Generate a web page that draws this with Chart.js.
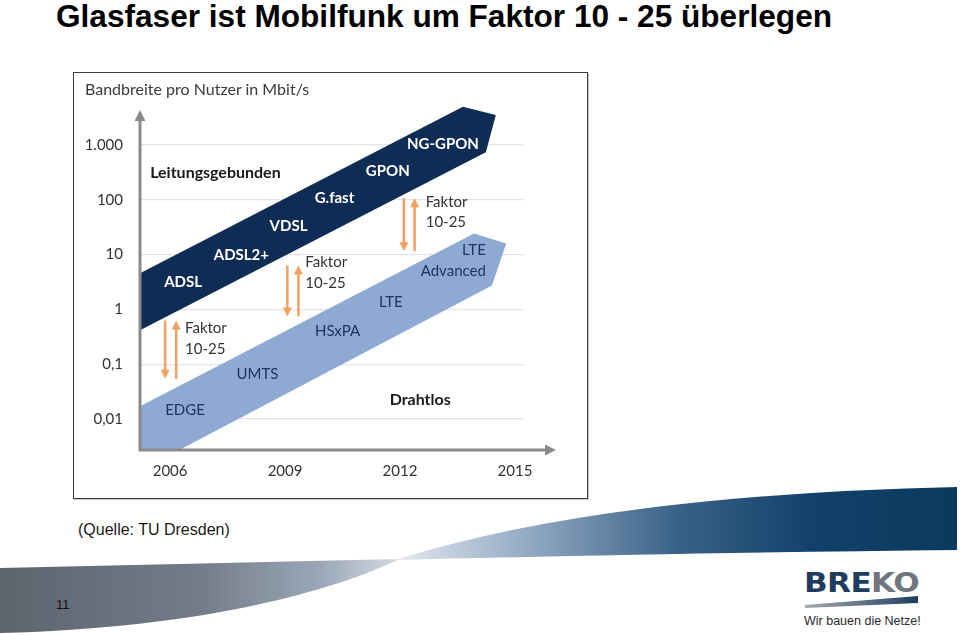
<!DOCTYPE html>
<html lang="de">
<head>
<meta charset="utf-8">
<title>Glasfaser ist Mobilfunk um Faktor 10 - 25 überlegen</title>
<script src="https://cdn.jsdelivr.net/npm/chart.js@4.4.1/dist/chart.umd.min.js"></script>
<style>
  html, body { margin: 0; padding: 0; background: #fff; }
  body { width: 960px; height: 635px; position: relative; overflow: hidden; font-family: 'Liberation Sans', Arial, sans-serif; }
  #deco { position: absolute; left: 0; top: 0; }
  .slide-title { position: absolute; left: 56px; top: -2px; font-size: 31.6px; font-weight: bold; color: #000; white-space: nowrap; }
  #box { position: absolute; left: 73px; top: 72px; width: 515px; height: 427px; box-sizing: border-box; border: 1px solid #3c3c3c; background: #fff; box-shadow: 1px 1px 0 #c8c8c8; }
  #box canvas { position: absolute; left: 0; top: 0; }
  .ylabel { position: absolute; left: 11px; top: 6px; font: 16px Lato, sans-serif; color: #3a3a3a; white-space: nowrap; }
  .source { position: absolute; left: 78px; top: 521px; font-size: 16px; color: #1a1a1a; white-space: nowrap; }
  .page { position: absolute; left: 56px; top: 597px; font-size: 13px; color: #111; }
  .breko { position: absolute; left: 804px; top: 568px; font: bold 27px 'DejaVu Sans', sans-serif; letter-spacing: -0.5px; transform: scaleX(1.15); transform-origin: left top; white-space: nowrap; line-height: 30px; }
  .breko .b { color: #1f3d5e; }
  .breko .k { color: #6f767e; }
  .claim { position: absolute; left: 804px; top: 614px; font-size: 12.5px; color: #2a2a2a; white-space: nowrap; }
</style>
</head>
<body>
<svg id="deco" width="960" height="635">
  <defs>
    <linearGradient id="gLeft" x1="0" y1="0" x2="400" y2="0" gradientUnits="userSpaceOnUse">
      <stop offset="0" stop-color="#5d646e"/>
      <stop offset="0.5" stop-color="#737c89"/>
      <stop offset="0.8" stop-color="#9ba7b7"/>
      <stop offset="1" stop-color="#d3dae4"/>
    </linearGradient>
    <linearGradient id="gRight" x1="395" y1="0" x2="957" y2="0" gradientUnits="userSpaceOnUse">
      <stop offset="0" stop-color="#e3e8ef"/>
      <stop offset="0.25" stop-color="#8ea6c0"/>
      <stop offset="0.5" stop-color="#3a6288"/>
      <stop offset="0.75" stop-color="#11406a"/>
      <stop offset="1" stop-color="#0b3a5e"/>
    </linearGradient>
    <linearGradient id="gBar" x1="805" y1="0" x2="918" y2="0" gradientUnits="userSpaceOnUse">
      <stop offset="0" stop-color="#a3a9b0"/>
      <stop offset="1" stop-color="#1f3d5e"/>
    </linearGradient>
  </defs>
  <path d="M0,568 L400,559 C330,592 200,628 0,633 Z" fill="url(#gLeft)"/>
  <path d="M395,560 Q600,495 957,487 L957,550 C760,552 560,556 395,560 Z" fill="url(#gRight)"/>
  <path d="M805,605 L918,596 L918,603 L805,608 Z" fill="url(#gBar)"/>
</svg>

<div class="slide-title">Glasfaser ist Mobilfunk um Faktor 10 - 25 überlegen</div>

<div id="box">
  <canvas id="chart" width="513" height="425"></canvas>
  <div class="ylabel">Bandbreite pro Nutzer in Mbit/s</div>
</div>

<div class="source">(Quelle: TU Dresden)</div>
<div class="page">11</div>
<div class="breko"><span class="b">BRE</span><span class="k">KO</span></div>
<div class="claim">Wir bauen die Netze!</div>

<script>
// axis ticks
const xTicks = [2006, 2009, 2012, 2015];
const xTickLabels = ['2006', '2009', '2012', '2015'];
const yTicks = [0.01, 0.1, 1, 10, 100, 1000];
const yTickLabels = ['0,01', '0,1', '1', '10', '100', '1.000'];

// band outlines (year, Mbit/s)
const wiredBand = [
  { x: 2005.2, y: 4.5 }, { x: 2013.64, y: 5000 }, { x: 2014.5, y: 3540 },
  { x: 2014.24, y: 745 }, { x: 2005.2, y: 0.41 }
];
const wirelessBand = [
  { x: 2005.2, y: 0.0169 }, { x: 2013.93, y: 24.4 }, { x: 2014.77, y: 16.0 },
  { x: 2014.4, y: 2.73 }, { x: 2005.2, y: 0.00112 }
];

// technology labels inside the bands
const wiredTech  = ['ADSL', 'ADSL2+', 'VDSL', 'G.fast', 'GPON', 'NG-GPON'];
const wiredTechX = [2006.34, 2007.86, 2009.09, 2010.29, 2011.68, 2013.12];
const wiredTechY = [3.1, 9.7, 32.8, 107, 334, 1043];
const wirelessTech  = ['EDGE', 'UMTS', 'HSxPA', 'LTE'];
const wirelessTechX = [2006.39, 2008.28, 2010.37, 2011.76];
const wirelessTechY = [0.0146, 0.0667, 0.409, 1.33];
const lteAdvLines = ['LTE', 'Advanced'];
const lteAdvX = 2014.24;
const lteAdvY = [11.9, 4.92];

const groupNames = ['Leitungsgebunden', 'Drahtlos'];
const groupX = [2005.48, 2011.73];
const groupY = [307, 0.0223];

// "Faktor 10-25" double arrows
const factorDownX = [2005.87, 2009.06, 2012.10];
const factorUpX   = [2006.16, 2009.35, 2012.38];
const factorHigh  = [0.624, 6.34, 107];
const factorLow   = [0.054, 0.738, 11.5];
const factorTextX = [2006.39, 2009.53, 2012.67];
const factorText1Y = [0.445, 7.2, 90.4];
const factorText2Y = [0.184, 2.97, 38.9];

const NAVY = '#0f2d54';
const LIGHT = '#8eaad3';
const AXIS = '#8a8a8a';
const ORANGE = '#f2a060';
const FONT = 'Lato, sans-serif';

function arrowHead(c, x, y, dx, dy, len, hw) {
  const bx = x - dx * len, by = y - dy * len;
  c.beginPath();
  c.moveTo(x, y);
  c.lineTo(bx - dy * hw, by + dx * hw);
  c.lineTo(bx + dy * hw, by - dx * hw);
  c.closePath();
  c.fill();
}

const overlay = {
  id: 'overlay',
  afterDatasetsDraw(ch) {
    const c = ch.ctx, a = ch.chartArea, xs = ch.scales.x, ys = ch.scales.y;
    const px = v => xs.getPixelForValue(v), py = v => ys.getPixelForValue(v);
    c.save();

    // axes with arrow heads
    c.strokeStyle = AXIS; c.fillStyle = AXIS; c.lineWidth = 3;
    const yTip = a.top + 10, xTip = a.right + 32;
    c.beginPath();
    c.moveTo(a.left, a.bottom + 1.5); c.lineTo(a.left, yTip + 8);
    c.moveTo(a.left - 1.5, a.bottom); c.lineTo(xTip - 8, a.bottom);
    c.stroke();
    arrowHead(c, a.left, yTip, 0, -1, 11, 5.5);
    arrowHead(c, xTip, a.bottom, 1, 0, 11, 5.5);

    // factor arrows
    c.strokeStyle = ORANGE; c.fillStyle = ORANGE; c.lineWidth = 2.5;
    factorDownX.forEach((fx, i) => {
      const x1 = px(fx), x2 = px(factorUpX[i]);
      const top = py(factorHigh[i]), bot = py(factorLow[i]);
      c.beginPath();
      c.moveTo(x1, top); c.lineTo(x1, bot - 7);
      c.moveTo(x2, bot); c.lineTo(x2, top + 7);
      c.stroke();
      arrowHead(c, x1, bot, 0, 1, 9, 4.5);
      arrowHead(c, x2, top, 0, -1, 9, 4.5);
    });

    c.textBaseline = 'middle';
    // factor texts
    c.font = '15px ' + FONT; c.fillStyle = '#333'; c.textAlign = 'left';
    factorTextX.forEach((fx, i) => {
      c.fillText('Faktor', px(fx), py(factorText1Y[i]));
      c.fillText('10-25', px(fx), py(factorText2Y[i]));
    });

    // group names
    c.font = '700 16px ' + FONT; c.fillStyle = '#1a1a1a';
    groupNames.forEach((g, i) => c.fillText(g, px(groupX[i]), py(groupY[i])));

    // band labels
    c.font = '700 15px ' + FONT;
    c.textAlign = 'center'; c.fillStyle = '#ffffff';
    wiredTech.forEach((t, i) => c.fillText(t, px(wiredTechX[i]), py(wiredTechY[i])));
    c.fillStyle = '#1d3560';
    c.font = '15px ' + FONT;
    wirelessTech.forEach((t, i) => c.fillText(t, px(wirelessTechX[i]), py(wirelessTechY[i])));
    c.textAlign = 'right';
    lteAdvLines.forEach((t, i) => c.fillText(t, px(lteAdvX), py(lteAdvY[i])));

    c.restore();
  }
};

new Chart(document.getElementById('chart'), {
  type: 'line',
  plugins: [overlay],
  data: {
    datasets: [
      {
        label: 'Leitungsgebunden', data: wiredBand,
        fill: 'shape', backgroundColor: NAVY, borderColor: NAVY, borderWidth: 0,
        pointRadius: 0, tension: 0
      },
      {
        label: 'Drahtlos', data: wirelessBand,
        fill: 'shape', backgroundColor: LIGHT, borderColor: LIGHT, borderWidth: 0,
        pointRadius: 0, tension: 0
      }
    ]
  },
  options: {
    responsive: false,
    animation: false,
    events: [],
    layout: { padding: { top: 27, right: 63, left: 0, bottom: 0 } },
    scales: {
      x: {
        type: 'linear', min: 2005.215, max: 2015.235,
        afterBuildTicks: s => { s.ticks = xTicks.map(v => ({ value: v })); },
        afterFit: s => { s.height = 48; },
        ticks: {
          callback: (v, i) => xTickLabels[i],
          color: '#333', padding: 4, maxRotation: 0,
          font: { family: 'Lato', size: 15 }
        },
        grid: { display: false },
        border: { display: false }
      },
      y: {
        type: 'logarithmic', min: 0.002705, max: 6671,
        afterBuildTicks: s => { s.ticks = yTicks.map(v => ({ value: v })); },
        afterFit: s => { s.width = 66; },
        ticks: {
          callback: (v, i) => yTickLabels[i],
          color: '#333', padding: 17,
          font: { family: 'Lato', size: 15 }
        },
        grid: { color: '#e4e4e4', lineWidth: 1.3, drawTicks: false },
        border: { display: false }
      }
    },
    plugins: { legend: { display: false }, tooltip: { enabled: false } }
  }
});
</script>
</body>
</html>
